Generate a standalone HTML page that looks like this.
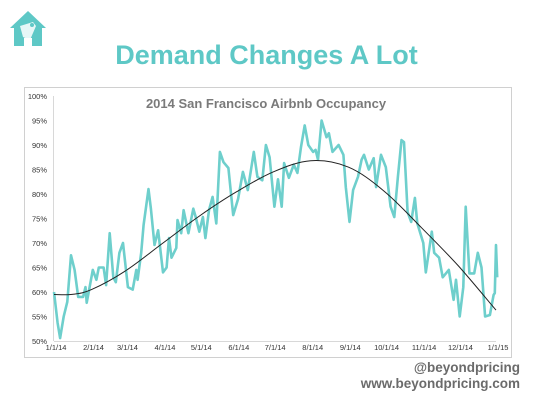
<!DOCTYPE html>
<html><head><meta charset="utf-8"><style>
html,body{margin:0;padding:0;background:#fff;}
body{width:533px;height:400px;position:relative;overflow:hidden;font-family:"Liberation Sans",sans-serif;}
#title{position:absolute;left:0;width:533px;top:40px;text-align:center;color:#5ec8c6;font-weight:bold;font-size:27px;}
.foot{position:absolute;right:13px;color:#6b6b6b;font-weight:bold;font-size:13.5px;}
</style></head><body>
<svg style="position:absolute;left:8px;top:10px" width="40" height="40" viewBox="0 0 40 40">
<path d="M20 1 L38 18 L34 18 L34 36 L24 36 L24 28 L16 28 L16 36 L6 36 L6 18 L2 18 Z" fill="#5ec8c6"/>
<path d="M12 16 L25 12 L28 16 L22 30 L15 27 Z" fill="#fff" opacity="0.85"/>
<circle cx="24" cy="15" r="2" fill="#5ec8c6"/>
</svg>
<div id="title">Demand Changes A Lot</div>
<svg id="chart" style="position:absolute;left:0;top:0" width="533" height="400"></svg>
<div class="foot" style="top:360px">@beyondpricing</div>
<div class="foot" style="top:376px">www.beyondpricing.com</div>
<script>
const days=[0,3,5,8,11,14,17,20,24,26,27,32,35,37,41,43,46,49,51,54,57,61,65,68,69,72,74,78,80,83,86,90,93,95,97,101,102,105,107,111,115,117,120,123,125,128,131,134,137,140,144,148,152,156,160,165,168,172,175,178,182,185,188,190,194,198,201,204,207,210,214,216,218,221,225,227,230,235,239,241,244,247,251,254,256,260,264,266,270,274,278,281,284,287,289,292,295,298,300,305,307,312,314,318,321,326,330,332,335,338,340,343,347,350,353,356,360,363,364,365,366];
const occupancy=[60,53.7,50.6,55,58,67.5,64.5,59,59,61,57.8,64.5,62.5,65,65,61.4,72,63,62,68,70,61,60.5,64.5,62.5,68,73.7,81,77,69.6,72.6,64,65,71,67,69,74.7,72,76.7,72,77,75.3,72.3,75.3,71,76.7,79.4,74,88.6,86.5,85.3,75.7,79,84.5,80.8,88.6,83.5,82.8,90,87.5,77.4,83,77.4,86.3,83.3,86,84.3,89.6,94,90,88.6,89,87,95,91.6,92.4,88.6,90,88,81.4,74.3,80.8,83.5,87,88,85,87.3,81.4,88,85.5,77.4,75.3,83.5,91,90.6,76.3,74.3,79.2,74,70,64,72.3,68,67,63,64.5,58.4,62.5,55,61,77.4,63.8,63.8,68,65,55,55.3,59.4,59.8,69.6,63];
const trendDays=[0,15,31,59,90,120,151,181,212,243,273,304,334,365];
const trendValues=[59.5,59.5,60.5,64.3,70,75.5,80.5,84.5,86.8,85.5,80.5,73,65.3,56.3];
const yTicks=[50,55,60,65,70,75,80,85,90,95,100];
const xTickLabels=["1/1/14","2/1/14","3/1/14","4/1/14","5/1/14","6/1/14","7/1/14","8/1/14","9/1/14","10/1/14","11/1/14","12/1/14","1/1/15"];
const xTickDays=[0,31,59,90,120,151,181,212,243,273,304,334,365];

const NS="http://www.w3.org/2000/svg";
const svg=document.getElementById('chart');
const X0=54,X1=496,Y0=341,Y1=96;
const xs=d=>X0+(X1-X0)*d/365;
const ys=v=>Y0-(Y0-Y1)*(v-50)/50;
function mk(tag,attrs,parent){const e=document.createElementNS(NS,tag);for(const k in attrs)e.setAttribute(k,attrs[k]);(parent||svg).appendChild(e);return e;}

const frame=mk('rect',{x:24.5,y:87.5,width:487,height:270,fill:'#fff',stroke:'#d0d0d0'});


const ct=mk('text',{x:266,y:108,'text-anchor':'middle','font-size':'13','font-weight':'bold',fill:'#7a7a7a','font-family':'Liberation Sans'});
ct.textContent='2014 San Francisco Airbnb Occupancy';


const ax=mk('line',{x1:X0,y1:Y0+0.5,x2:X1,y2:Y0+0.5,stroke:'#d8d8d8'});


const ay=mk('line',{x1:X0-0.5,y1:Y1,x2:X0-0.5,y2:Y0,stroke:'#d8d8d8'});


yTicks.forEach(v=>{
  const t=mk('text',{x:X0-7,y:ys(v)+3,'text-anchor':'end','font-size':'7.5',fill:'#333','font-family':'Liberation Sans'});
  t.textContent=v+'%';
  
  
});
xTickLabels.forEach((l,i)=>{
  const t=mk('text',{x:xs(xTickDays[i])+2,y:Y0+9,'text-anchor':'middle','font-size':'7.5',fill:'#333','font-family':'Liberation Sans'});
  t.textContent=l;
  
  
});
let d='';
days.forEach((dd,i)=>{d+=(i?'L':'M')+xs(dd).toFixed(1)+' '+ys(occupancy[i]).toFixed(1);});
const line=mk('path',{d:d,fill:'none',stroke:'#6ecfcc','stroke-width':'2.6','stroke-linejoin':'round'});


const P=trendDays.map((dd,i)=>[xs(dd),ys(trendValues[i])]);
let td='M'+P[0][0]+' '+P[0][1];
for(let i=0;i<P.length-1;i++){
  const p0=P[Math.max(0,i-1)],p1=P[i],p2=P[i+1],p3=P[Math.min(P.length-1,i+2)];
  const c1=[p1[0]+(p2[0]-p0[0])/6,p1[1]+(p2[1]-p0[1])/6];
  const c2=[p2[0]-(p3[0]-p1[0])/6,p2[1]-(p3[1]-p1[1])/6];
  td+=`C${c1[0].toFixed(1)} ${c1[1].toFixed(1)} ${c2[0].toFixed(1)} ${c2[1].toFixed(1)} ${p2[0].toFixed(1)} ${p2[1].toFixed(1)}`;
}
const tr=mk('path',{d:td,fill:'none',stroke:'#222','stroke-width':'1'});


</script>
</body></html>
